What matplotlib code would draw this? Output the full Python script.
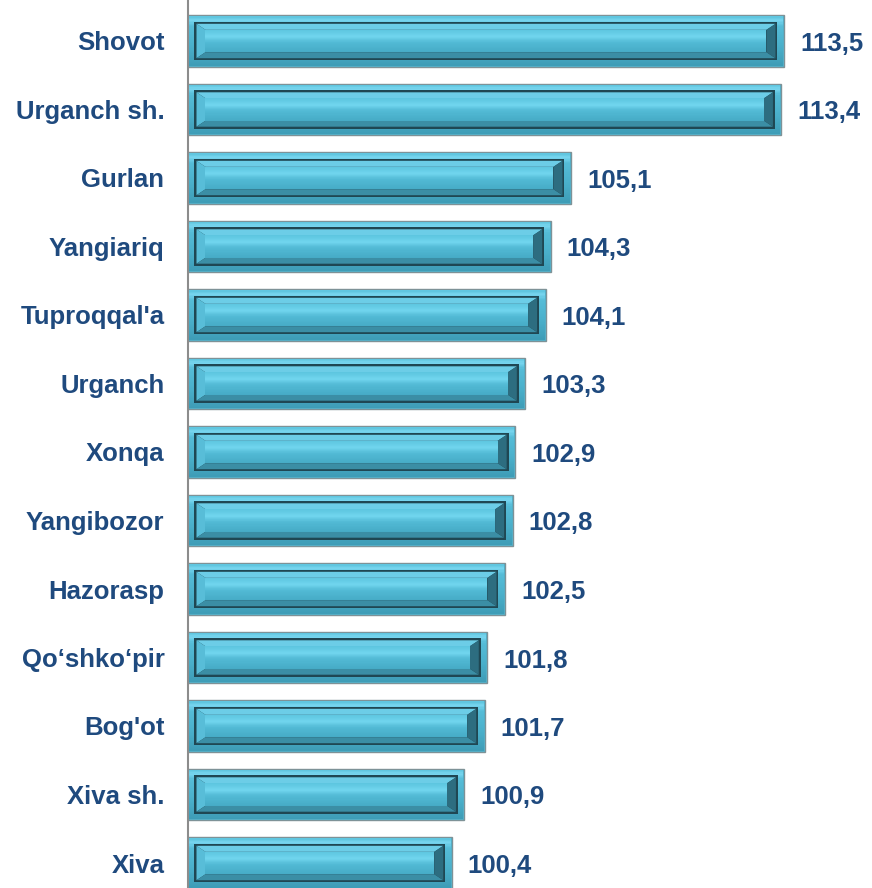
import matplotlib
matplotlib.use("Agg")
import matplotlib.pyplot as plt
from matplotlib.patches import Polygon
from matplotlib.transforms import offset_copy
import numpy as np

categories = ["Shovot", "Urganch sh.", "Gurlan", "Yangiariq", "Tuproqqal'a", "Urganch",
              "Xonqa", "Yangibozor", "Hazorasp", "Qo\u2018shko\u2018pir", "Bog'ot", "Xiva sh.", "Xiva"]
values = [113.5, 113.4, 105.1, 104.3, 104.1, 103.3, 102.9, 102.8, 102.5, 101.8, 101.7, 100.9, 100.4]
value_labels = ["113,5", "113,4", "105,1", "104,3", "104,1", "103,3", "102,9", "102,8",
                "102,5", "101,8", "101,7", "100,9", "100,4"]

W, H, DPI = 872, 888, 100
TEXT_COLOR = "#1F4A7E"
plt.rcParams['font.family'] = ['Liberation Sans', 'DejaVu Sans']

fig = plt.figure(figsize=(W / DPI, H / DPI), dpi=DPI)
ax = fig.add_axes([188 / W, 0, 1 - 188 / W, 1])
XMIN = 90
ax.set_xlim(XMIN, XMIN + (W - 188) / 25.36)
ax.set_ylim((H - 41) / 68.5, -41 / 68.5)

y = np.arange(len(categories))
bh = 0.75
bars = ax.barh(y, [v - XMIN for v in values], left=XMIN, height=bh,
               color="#4DB4CF", edgecolor="#7E9297", linewidth=1.0, zorder=2)

for s in ["top", "right", "bottom"]:
    ax.spines[s].set_visible(False)
ax.spines["left"].set_color("#8C8C8C")
ax.spines["left"].set_linewidth(1.5)
ax.spines["left"].set_zorder(5)
ax.set_xticks([])
ax.set_yticks(y)
ax.set_yticklabels(categories, fontsize=18.5, fontweight="bold", color=TEXT_COLOR)
ax.tick_params(axis="y", length=0, pad=17)

fig.canvas.draw()
inv = ax.transData.inverted()


def to_data(px, py):
    return inv.transform((px, py))


def poly(pts, color, z):
    d = [to_data(px, py) for px, py in pts]
    ax.add_patch(Polygon(d, closed=True, facecolor=color, edgecolor="none", zorder=z))


def grad_rect(x0, x1, ytop, ybot, stops, z):
    n = 40
    ts = np.linspace(0, 1, n + 1)
    cols = np.array([matplotlib.colors.to_rgb(c) for _, c in stops])
    pos = np.array([p for p, _ in stops])
    for i in range(n):
        t = (ts[i] + ts[i + 1]) / 2
        c = [np.interp(t, pos, cols[:, k]) for k in range(3)]
        ya = ytop - (ytop - ybot) * ts[i]
        yb = ytop - (ytop - ybot) * ts[i + 1]
        poly([(x0, ya), (x1, ya), (x1, yb - 0.3), (x0, yb - 0.3)], c, z)


for b, lab in zip(bars, value_labels):
    (X0, Y0), (X1, Y1) = ax.transData.transform([(b.get_x(), b.get_y()),
                                                  (b.get_x() + b.get_width(), b.get_y() + b.get_height())])
    L, R = min(X0, X1), max(X0, X1)
    B, T = min(Y0, Y1), max(Y0, Y1)
    # outer frame gradient
    grad_rect(L + 1, R - 1, T - 1, B + 1,
              [(0, "#5BC3DD"), (0.08, "#78D6EF"), (0.2, "#55BCD7"), (0.6, "#4AB0CB"), (1, "#3E9CB6")], 2.5)
    # inner dark rect
    ins = 6.5
    il, ir, it, ib = L + ins, R - ins, T - ins, B + ins
    poly([(il, it), (ir, it), (ir, ib), (il, ib)], "#1F4753", 3)
    lw = 2
    fl, fr, ft, fb = il + lw, ir - lw, it - lw, ib + lw
    fx, fy = 9, 6
    cl, cr, ct, cb = fl + fx, fr - fx, ft - fy, fb + fy
    # bevel facets
    poly([(fl, ft), (fr, ft), (cr, ct), (cl, ct)], "#6CCDE7", 3.5)        # top
    poly([(fl, ft), (cl, ct), (cl, cb), (fl, fb)], "#58BDD8", 3.5)        # left
    poly([(fl, fb), (cl, cb), (cr, cb), (fr, fb)], "#3B8EA5", 3.5)        # bottom
    poly([(fr, ft), (fr, fb), (cr, cb), (cr, ct)], "#2D6D80", 3.5)        # right
    # face
    grad_rect(cl, cr, ct, cb,
              [(0, "#5CC5DF"), (0.3, "#70D5EE"), (0.55, "#52BAD5"), (1, "#46ABC6")], 3.6)

tr = offset_copy(ax.transData, fig=fig, x=16, y=-3, units="dots")
for b, lab in zip(bars, value_labels):
    ax.text(b.get_x() + b.get_width(), b.get_y() + b.get_height() / 2, lab,
            transform=tr, ha="left", va="center", fontsize=18.5,
            fontweight="bold", color=TEXT_COLOR, zorder=6)

fig.savefig("out.png", dpi=DPI)
